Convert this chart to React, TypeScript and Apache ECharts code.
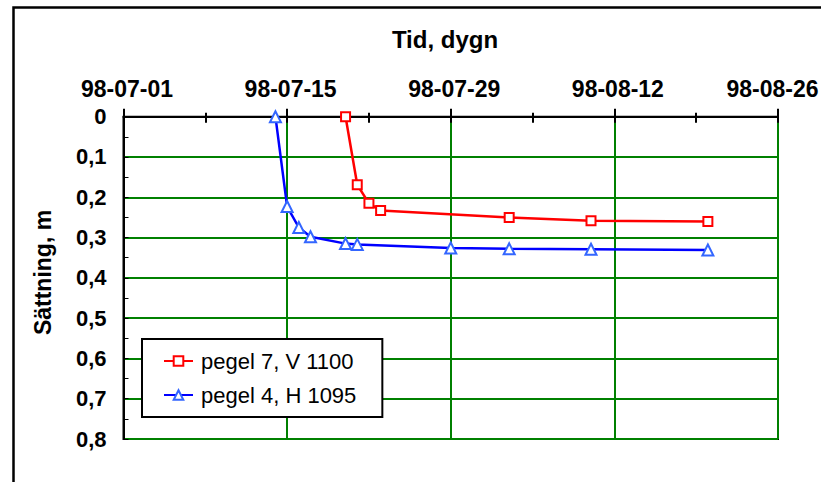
import React, { useEffect, useRef } from "react";
import * as echarts from "echarts";

const START_DATE = "1998-07-01";
const xTickLabels = ["98-07-01", "98-07-15", "98-07-29", "98-08-12", "98-08-26"];
const yTickLabels = ["0", "0,1", "0,2", "0,3", "0,4", "0,5", "0,6", "0,7", "0,8"];

const redName = "pegel 7, V 1100";
const redDates = ["1998-07-20", "1998-07-21", "1998-07-22", "1998-07-23", "1998-08-03", "1998-08-10", "1998-08-20"];
const redValues = [0, 0.169, 0.215, 0.233, 0.25, 0.258, 0.26];

const blueName = "pegel 4, H 1095";
const blueDates = ["1998-07-14", "1998-07-15", "1998-07-16", "1998-07-17", "1998-07-20", "1998-07-21", "1998-07-29", "1998-08-03", "1998-08-10", "1998-08-20"];
const blueValues = [0, 0.223, 0.275, 0.298, 0.315, 0.317, 0.326, 0.328, 0.329, 0.331];

const dayOffset = (d: string) => (Date.parse(d) - Date.parse(START_DATE)) / 86400000;
const pairs = (dates: string[], vals: number[]) => dates.map((d, i) => [dayOffset(d), vals[i]]);

const FONT = "'Liberation Sans', Arial, sans-serif";
const xLabelFont = { fontFamily: FONT, fontSize: 23, fontWeight: "bold" as const, color: "#000" };

export default function App() {
  const ref = useRef<HTMLDivElement>(null);
  useEffect(() => {
    if (!ref.current) return;
    const chart = echarts.init(ref.current, undefined, { renderer: "svg" });
    const xMax = (xTickLabels.length - 1) * 14;
    chart.setOption({
      animation: false,
      backgroundColor: "#fff",
      title: {
        text: "Tid, dygn",
        left: 445,
        top: 27,
        textAlign: "center",
        padding: 0,
        textStyle: { fontFamily: FONT, fontSize: 24, fontWeight: "bold", color: "#000" },
      },
      graphic: [
        {
          type: "rect",
          shape: { x: 13.5, y: 7.5, width: 900, height: 600 },
          style: { fill: "none", stroke: "#000", lineWidth: 2.5 },
          silent: true,
        },
        {
          type: "text",
          x: 42.5,
          y: 272.5,
          rotation: Math.PI / 2,
          style: {
            text: "Sättning, m",
            fontFamily: FONT,
            fontSize: 23,
            fontWeight: "bold",
            fill: "#000",
            align: "center",
            verticalAlign: "middle",
          },
          silent: true,
        },
      ],
      legend: {
        orient: "vertical",
        left: 142,
        top: 339,
        padding: [11, 26, 11, 21],
        itemWidth: 29,
        itemHeight: 12,
        itemGap: 12,
        backgroundColor: "#fff",
        borderColor: "#000",
        borderWidth: 2,
        borderRadius: 0,
        textStyle: { fontFamily: FONT, fontSize: 22, color: "#000", padding: [0, 0, 0, 3] },
        data: [redName, blueName],
      },
      grid: {
        left: 123.5,
        right: 43,
        top: 116.7,
        bottom: 43,
        outerBoundsMode: "none",
        containLabel: false,
        show: true,
        borderColor: "#000",
        borderWidth: 2,
        backgroundColor: "transparent",
      },
      xAxis: [
        {
          type: "value",
          position: "top",
          min: 0,
          max: xMax,
          interval: 14,
          axisLine: { show: true, lineStyle: { color: "#000", width: 2 } },
          axisTick: { show: true, length: 8, lineStyle: { color: "#000", width: 2 } },
          minorTick: { show: true, splitNumber: 2, length: 4, lineStyle: { color: "#000", width: 2 } },
          axisLabel: {
            margin: 16,
            ...xLabelFont,
            formatter: (v: number) => {
              const i = Math.round(v / 14);
              const t = xTickLabels[i] ?? "";
              return i === xTickLabels.length - 1 ? `{b|${t}}` : `{a|${t}}`;
            },
            rich: {
              a: { ...xLabelFont, padding: [0, 0, 0, 7] },
              b: { ...xLabelFont, padding: [0, 11, 0, 0] },
            },
          },
          splitLine: {
            show: true,
            lineStyle: { color: "#008000", width: 2 },
          },
        },
        {
          type: "value",
          position: "top",
          min: 0,
          max: xMax,
          interval: 14,
          axisLine: { show: false },
          axisTick: { show: true, inside: true, length: 6, lineStyle: { color: "#000", width: 2 } },
          minorTick: { show: true, splitNumber: 2, length: 6, lineStyle: { color: "#000", width: 2 } },
          axisLabel: { show: false },
          splitLine: { show: false },
        },
      ],
      yAxis: {
        type: "value",
        inverse: true,
        min: 0,
        max: 0.8,
        interval: 0.1,
        axisLine: { show: true, lineStyle: { color: "#000", width: 2 } },
        axisTick: { show: true, inside: true, length: 5, lineStyle: { color: "#000", width: 1 } },
        minorTick: { show: true, splitNumber: 2, length: 5, lineStyle: { color: "#000", width: 1 } },
        axisLabel: {
          margin: 17,
          fontFamily: FONT,
          fontSize: 22,
          fontWeight: "bold",
          color: "#000",
          formatter: (v: number) => yTickLabels[Math.round(v * 10)] ?? "",
        },
        splitLine: { show: true, lineStyle: { color: "#008000", width: 2 } },
      },
      series: [
        {
          name: redName,
          type: "line",
          data: pairs(redDates, redValues),
          symbol: "emptyRect",
          symbolSize: 9,
          clip: false,
          z: 5,
          lineStyle: { color: "#ff0000", width: 2.5 },
          itemStyle: { color: "#ff0000", borderWidth: 2 },
        },
        {
          name: blueName,
          type: "line",
          data: pairs(blueDates, blueValues),
          symbol: "emptyTriangle",
          symbolSize: 11,
          clip: false,
          z: 5,
          lineStyle: { color: "#0000ff", width: 2.5 },
          itemStyle: { color: "#3366ff", borderWidth: 2 },
        },
      ],
    });
    return () => chart.dispose();
  }, []);
  return (
    <div
      ref={ref}
      style={{ position: "absolute", left: 0, top: 0, width: 821, height: 482 }}
    />
  );
}
